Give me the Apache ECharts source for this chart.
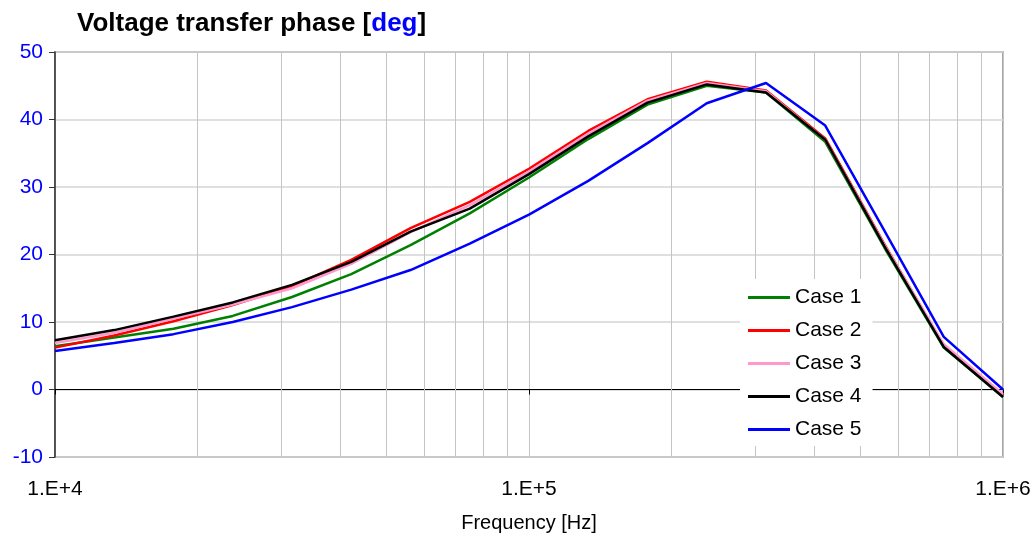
<!DOCTYPE html>
<html>
<head>
<meta charset="utf-8">
<script src="https://cdn.jsdelivr.net/npm/echarts@6/dist/echarts.min.js"></script>
<style>
  html, body { margin: 0; padding: 0; background: #fff; }
  #chart { width: 1034px; height: 541px; }
</style>
</head>
<body>
<div id="chart"></div>
<script>
// frequency points (Hz), 8 per decade
const freqs = [10000, 13335, 17783, 23714, 31623, 42170, 56234, 74989, 100000,
  133352, 177828, 237137, 316228, 421697, 562341, 749894, 1000000]

// phase values [deg]
const case1 = [6.4, 7.7, 9.0, 10.9, 13.7, 17.1, 21.4, 26.1, 31.4, 37.1, 42.2, 45.0, 44.0, 36.7, 21.0, 6.2, -1.1]
const case2 = [6.2, 8.0, 10.1, 12.5, 15.3, 19.2, 23.9, 27.8, 32.7, 38.3, 43.0, 45.6, 44.3, 37.2, 21.5, 6.5, -1.0]
const case3 = [6.9, 8.4, 10.5, 12.6, 15.0, 18.6, 23.3, 27.3, 32.3, 37.9, 42.8, 45.4, 44.2, 37.0, 21.4, 6.7, -0.7]
const case4 = [7.3, 8.8, 10.8, 12.9, 15.5, 18.9, 23.4, 26.8, 31.9, 37.5, 42.5, 45.2, 44.0, 37.0, 21.2, 6.3, -1.1]
const case5 = [5.7, 6.9, 8.2, 10.0, 12.2, 14.8, 17.7, 21.6, 25.9, 30.9, 36.5, 42.4, 45.4, 39.1, 23.5, 7.8, 0.0]

const seriesNames = ['Case 1', 'Case 2', 'Case 3', 'Case 4', 'Case 5']
const seriesColors = ['#008000', '#ff0000', '#ff99cc', '#000000', '#0000ff']

// x tick labels and the minor log grid lines
const xTickLabels = { 10000: '1.E+4', 100000: '1.E+5', 1000000: '1.E+6' }
const minorGrid = [20000, 30000, 40000, 50000, 60000, 70000, 80000, 90000,
  200000, 300000, 400000, 500000, 600000, 700000, 800000, 900000]

const font = '"Liberation Sans", Arial, sans-serif'
const allCases = [case1, case2, case3, case4, case5]

const chart = echarts.init(document.getElementById('chart'))

const series = allCases.map((vals, i) => {
  const s = {
    name: seriesNames[i],
    type: 'line',
    xAxisIndex: 0,
    data: freqs.map((f, j) => [f, vals[j]]),
    showSymbol: false,
    symbol: 'none',
    lineStyle: { color: seriesColors[i], width: 2.5 },
    itemStyle: { color: seriesColors[i] },
    animation: false
  }
  if (i === 0) {
    // thin grey lines at 2..9 of every decade
    s.markLine = {
      silent: true,
      symbol: 'none',
      z: 1,
      animation: false,
      label: { show: false },
      lineStyle: { color: '#c4c4c4', width: 1, type: 'solid' },
      data: minorGrid.map(v => ({ xAxis: v }))
    }
  }
  return s
})

const option = {
  backgroundColor: '#fff',
  animation: false,
  title: {
    text: '{a|Voltage transfer phase [}{b|deg}{a|]}',
    left: 72,
    top: 6,
    textStyle: {
      rich: {
        a: { fontFamily: font, fontSize: 26, fontWeight: 'bold', color: '#000' },
        b: { fontFamily: font, fontSize: 26, fontWeight: 'bold', color: '#0000ff' }
      }
    }
  },
  legend: {
    orient: 'vertical',
    left: 740,
    top: 279,
    padding: [8, 11, 6, 8],
    backgroundColor: '#fff',
    icon: 'rect',
    itemWidth: 42,
    itemHeight: 3,
    itemGap: 12,
    textStyle: { fontFamily: font, fontSize: 21, color: '#000' },
    data: seriesNames
  },
  grid: {
    left: 55,
    right: 31,
    top: 52,
    bottom: 84,
    show: true,
    borderColor: '#8a8a8a',
    borderWidth: 1.5
  },
  xAxis: [
    {
      // axis line sitting on y = 0
      type: 'log',
      logBase: 10,
      min: 10000,
      max: 1000000,
      axisLine: { onZero: true, lineStyle: { color: '#000', width: 1 } },
      axisTick: { show: true, length: 5, lineStyle: { color: '#000' } },
      axisLabel: { show: false },
      splitLine: { show: false }
    },
    {
      // bottom labels + decade grid lines
      type: 'log',
      logBase: 10,
      min: 10000,
      max: 1000000,
      position: 'bottom',
      axisLine: { show: false, onZero: false },
      axisTick: { show: false },
      axisLabel: {
        margin: 22,
        fontFamily: font,
        fontSize: 21,
        color: '#000',
        formatter: v => xTickLabels[Math.round(v)] || ''
      },
      splitLine: { show: true, lineStyle: { color: '#c4c4c4', width: 1 } },
      name: 'Frequency [Hz]',
      nameLocation: 'middle',
      nameGap: 56,
      nameTextStyle: { fontFamily: font, fontSize: 20, color: '#000' }
    }
  ],
  yAxis: {
    type: 'value',
    min: -10,
    max: 50,
    interval: 10,
    axisLine: { show: true, lineStyle: { color: '#333', width: 1.5 } },
    axisTick: { show: true, inside: false, length: 6, lineStyle: { color: '#333' } },
    axisLabel: { margin: 12, fontFamily: font, fontSize: 21, color: '#0000ff' },
    splitLine: { show: true, lineStyle: { color: '#d4d4d4', width: 1.5 } }
  },
  series: series
}

chart.setOption(option)
</script>
</body>
</html>
